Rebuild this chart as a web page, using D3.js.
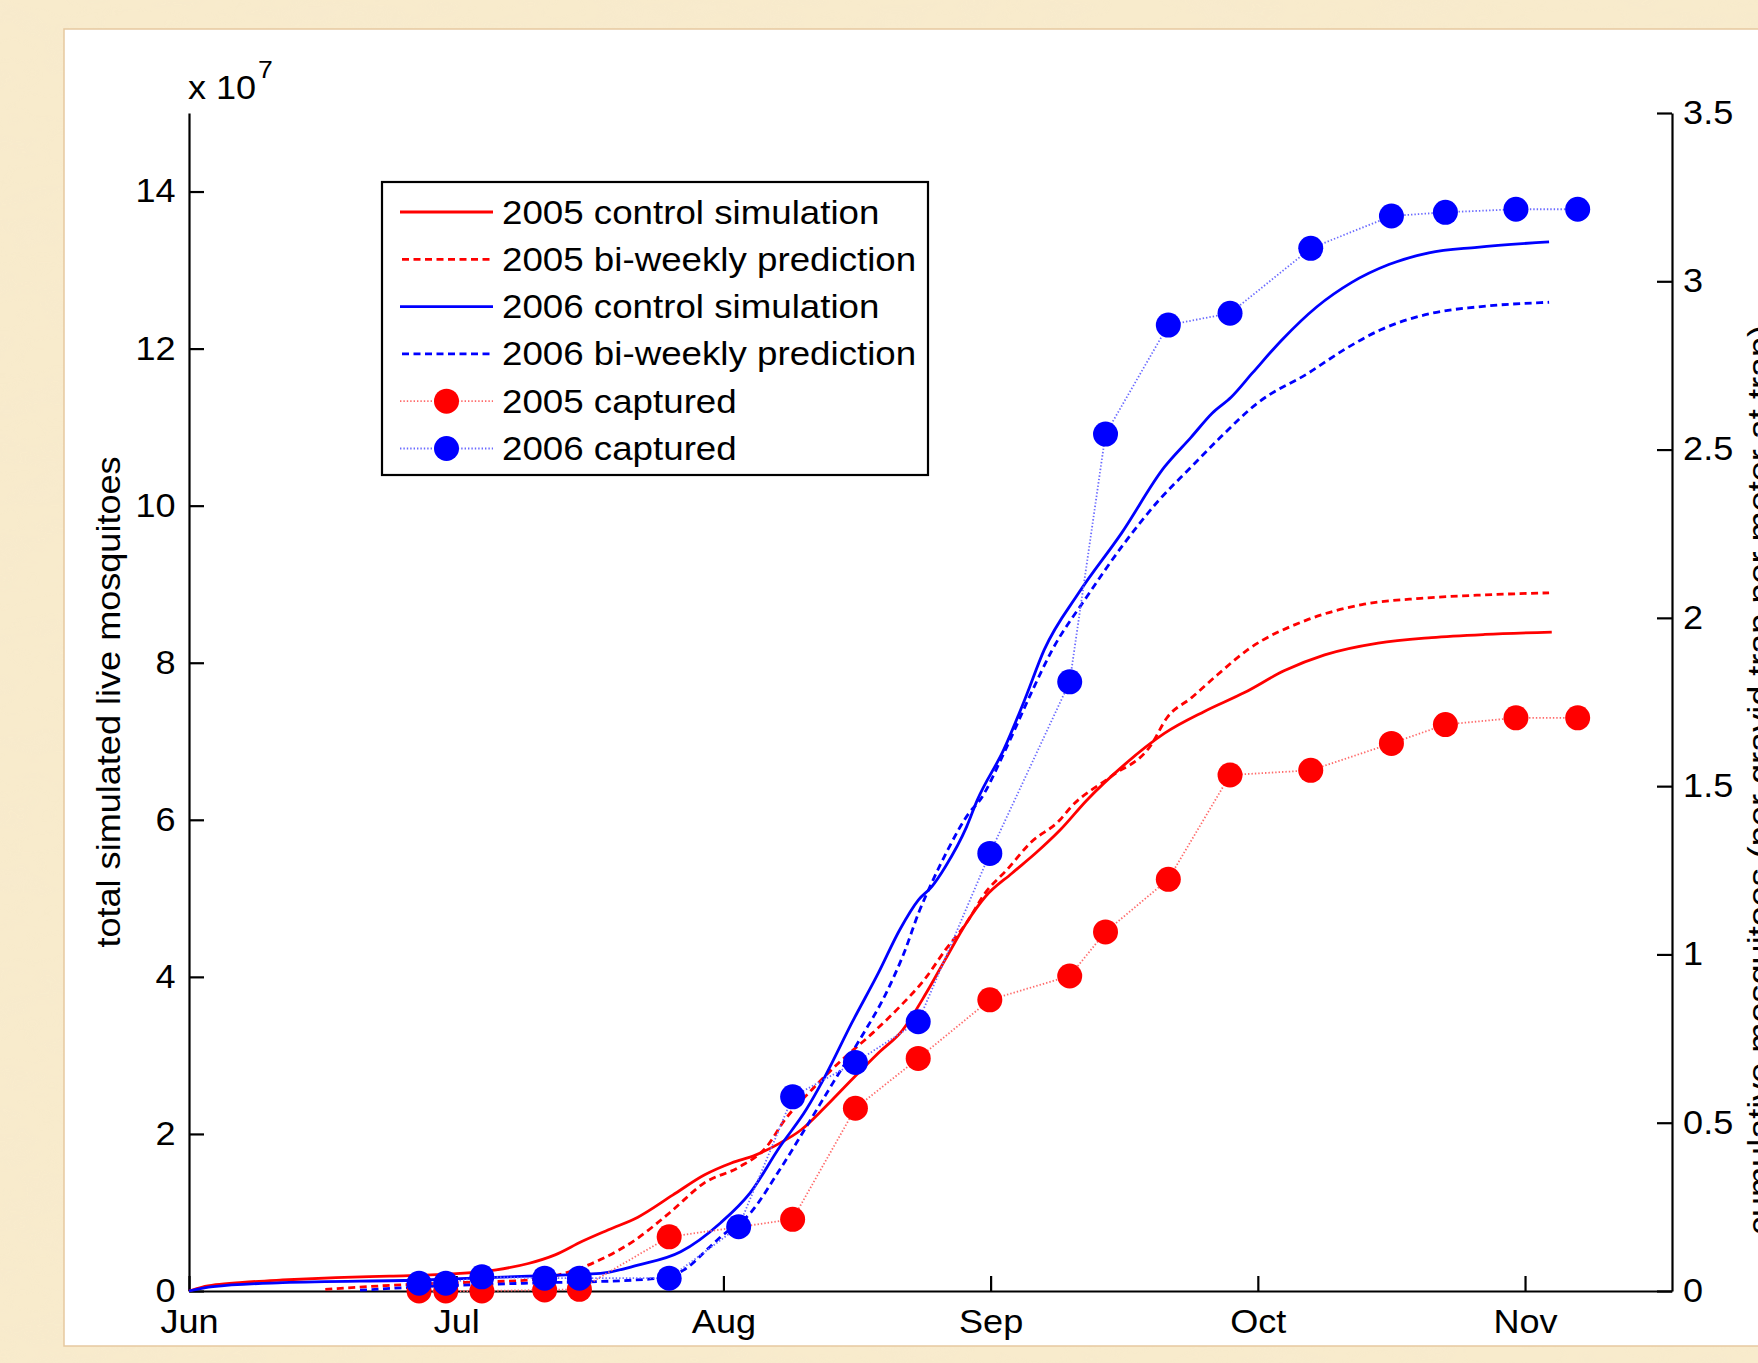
<!DOCTYPE html>
<html>
<head>
<meta charset="utf-8">
<script src="https://cdn.jsdelivr.net/npm/d3@7"></script>
<style>
  body { margin: 0; background: #f6e7c5; }
  svg { display: block; }
  text { font-family: "Liberation Sans", Arial, Helvetica, sans-serif; fill: #000; }
</style>
</head>
<body>
<svg id="chart" width="1758" height="1363"></svg>
<script>
// x values are in months (6 = 1 Jun, 7 = 1 Jul, ...), sim values in 1e7 mosquitoes
var monthTicks = [6, 7, 8, 9, 10, 11];
var monthNames = ["Jun", "Jul", "Aug", "Sep", "Oct", "Nov"];
var leftTicks = [0, 2, 4, 6, 8, 10, 12, 14];
var rightTicks = [0, 0.5, 1, 1.5, 2, 2.5, 3, 3.5];

var ctl2005 = [[6.00,0],[6.05,0.05],[6.10,0.08],[6.20,0.11],[6.35,0.14],[6.55,0.17],[6.75,0.19],[7.00,0.22],
  [7.15,0.27],[7.27,0.35],[7.37,0.46],[7.47,0.63],[7.57,0.78],[7.68,0.94],[7.81,1.22],[7.93,1.48],[8.03,1.63],
  [8.12,1.73],[8.21,1.88],[8.29,2.05],[8.38,2.34],[8.48,2.69],[8.58,3.03],[8.67,3.32],[8.76,3.80],[8.83,4.22],
  [8.91,4.69],[8.98,5.02],[9.08,5.32],[9.17,5.58],[9.26,5.87],[9.36,6.25],[9.50,6.70],[9.65,7.10],[9.80,7.38],
  [9.95,7.62],[10.10,7.90],[10.25,8.10],[10.45,8.25],[10.65,8.32],[10.85,8.36],[11.10,8.39]];
var pred2005 = [[6.51,0.02],[6.80,0.08],[7.04,0.11],[7.27,0.14],[7.40,0.22],[7.54,0.40],[7.67,0.65],[7.80,1.00],
  [7.93,1.38],[8.06,1.58],[8.16,1.83],[8.23,2.18],[8.33,2.56],[8.43,2.90],[8.56,3.29],[8.66,3.62],[8.76,4.00],
  [8.83,4.34],[8.91,4.69],[8.98,5.07],[9.06,5.36],[9.15,5.71],[9.26,6.00],[9.30,6.16],[9.45,6.55],[9.60,6.95],
  [9.66,7.30],[9.75,7.55],[9.85,7.85],[9.96,8.16],[10.18,8.54],[10.39,8.74],[10.61,8.82],[10.82,8.86],[11.09,8.89]];
var ctl2006 = [[6.00,0],[6.09,0.055],[6.35,0.106],[6.88,0.14],[7.27,0.19],[7.54,0.225],[7.68,0.33],[7.84,0.50],
  [7.99,0.87],[8.10,1.25],[8.21,1.83],[8.31,2.31],[8.38,2.73],[8.48,3.41],[8.58,4.05],[8.66,4.60],[8.73,4.98],
  [8.78,5.15],[8.83,5.40],[8.91,5.91],[8.95,6.25],[9.05,6.90],[9.13,7.55],[9.20,8.16],[9.33,8.89],[9.49,9.65],
  [9.65,10.49],[9.75,10.87],[9.83,11.18],[9.90,11.38],[9.98,11.69],[10.09,12.11],[10.22,12.53],[10.35,12.84],
  [10.49,13.07],[10.64,13.22],[10.82,13.29],[11.09,13.36]];
var pred2006 = [[6.64,0.01],[6.88,0.055],[7.27,0.10],[7.67,0.14],[7.80,0.19],[7.87,0.31],[7.93,0.50],[7.99,0.69],
  [8.10,0.99],[8.21,1.54],[8.31,2.09],[8.41,2.65],[8.51,3.20],[8.61,3.80],[8.68,4.34],[8.73,4.81],[8.78,5.20],
  [8.84,5.62],[8.92,6.09],[8.96,6.25],[9.05,6.85],[9.15,7.60],[9.23,8.16],[9.36,8.84],[9.50,9.52],[9.63,10.07],
  [9.75,10.49],[9.86,10.87],[10.00,11.31],[10.19,11.69],[10.32,11.98],[10.46,12.24],[10.65,12.45],[10.82,12.53],
  [11.09,12.59]];

// captured (right axis)
var capX2005 = [6.861,6.961,7.096,7.331,7.461,7.797,8.259,8.494,8.729,8.997,9.296,9.430,9.665,9.896,10.198,10.500,10.702,10.966,11.197];
var cap2005  = [0,0,0,0.003,0.005,0.161,0.213,0.543,0.691,0.865,0.936,1.067,1.223,1.533,1.547,1.627,1.683,1.703,1.703];
var capX2006 = [6.861,6.961,7.096,7.331,7.461,7.797,8.057,8.259,8.494,8.729,8.997,9.296,9.430,9.665,9.896,10.198,10.500,10.702,10.966,11.197];
var cap2006  = [0.023,0.023,0.042,0.038,0.038,0.038,0.191,0.577,0.679,0.800,1.300,1.810,2.546,2.870,2.905,3.098,3.194,3.205,3.214,3.214];

var svg = d3.select("#chart"),
    W = 1758, H = 1363,
    plotL = 189, plotR = 1672, plotT = 113, plotB = 1291,
    fs = 32.5, sx = 1.11;

// parchment background
var defs = svg.append("defs");
var f = defs.append("filter").attr("id", "paper").attr("x", 0).attr("y", 0).attr("width", 1).attr("height", 1);
f.append("feTurbulence").attr("type", "fractalNoise").attr("baseFrequency", "0.012 0.03").attr("numOctaves", 3).attr("seed", 7);
f.append("feColorMatrix").attr("type", "matrix")
  .attr("values", "0 0 0 0 0.93  0 0 0 0 0.82  0 0 0 0 0.62  0 0 0 -1.4 0.9");
svg.append("rect").attr("width", W).attr("height", H).attr("fill", "#f8ebcc");
svg.append("rect").attr("width", W).attr("height", H).attr("filter", "url(#paper)").attr("opacity", 0.7);

// white panel
svg.append("rect")
    .attr("x", 64).attr("y", 29).attr("width", W).attr("height", 1317)
    .attr("fill", "#fff").attr("stroke", "#e6c9a0").attr("stroke-width", 1.5);

var x = d3.scaleLinear().domain([6, 11.55]).range([plotL, plotR]);
var yL = d3.scaleLinear().domain([0, 15]).range([plotB, plotT]);
var yR = d3.scaleLinear().domain([0, 3.5]).range([plotB, plotT]);

var line = d3.line()
    .x(function(d) { return x(d[0]); })
    .y(function(d) { return yL(d[1]); })
    .curve(d3.curveMonotoneX);
var capLine = d3.line()
    .x(function(d) { return x(d[0]); })
    .y(function(d) { return yR(d[1]); });

function stretch(sel) {
    sel.attr("transform", "scale(" + sx + ",1)");
}

// axes
var gx = svg.append("g").attr("transform", "translate(0," + plotB + ")")
    .call(d3.axisBottom(x).tickValues(monthTicks).tickFormat(function(d, i) { return monthNames[i]; })
        .tickSizeInner(-15).tickSizeOuter(0).tickPadding(19));
var gl = svg.append("g").attr("transform", "translate(" + plotL + ",0)")
    .call(d3.axisLeft(yL).tickValues(leftTicks).tickSizeInner(-15).tickSizeOuter(0).tickPadding(12));
var gr = svg.append("g").attr("transform", "translate(" + plotR + ",0)")
    .call(d3.axisRight(yR).tickValues(rightTicks).tickFormat(function(d) { return String(d); })
        .tickSizeInner(-15).tickSizeOuter(0).tickPadding(10));
[gx, gl, gr].forEach(function(g) {
    g.attr("font-size", null).attr("font-family", null);
    g.selectAll("path, line").attr("stroke", "#000").attr("stroke-width", 2.2);
    g.selectAll("text").style("font-size", fs + "px").call(stretch);
});

// x 10^7
svg.append("text").attr("transform", "translate(188,99) scale(" + sx + ",1)").style("font-size", fs + "px").text("x 10");
svg.append("text").attr("transform", "translate(258,78) scale(" + sx + ",1)").style("font-size", "24px").text("7");

// axis labels
svg.append("text")
    .attr("transform", "translate(120," + (plotT + plotB) / 2 + ") rotate(-90) scale(" + sx + ",1)")
    .attr("text-anchor", "middle").style("font-size", fs + "px")
    .text("total simulated live mosquitoes");
svg.append("text")
    .attr("transform", "translate(1771,780) rotate(-90) scale(" + sx + ",1)")
    .attr("text-anchor", "middle").style("font-size", fs + "px")
    .text("cumulative mosquitoes (per gravid trap per meter at trap)");

// simulation curves
var series = [
    { data: ctl2005, color: "#ff0000", dash: null },
    { data: pred2005, color: "#ff0000", dash: "7,4.5" },
    { data: ctl2006, color: "#0000ff", dash: null },
    { data: pred2006, color: "#0000ff", dash: "7,4.5" }
];
series.forEach(function(s) {
    svg.append("path")
        .attr("d", line(s.data))
        .attr("fill", "none")
        .attr("stroke", s.color)
        .attr("stroke-width", 2.8)
        .attr("stroke-dasharray", s.dash);
});

// captured
var caps = [
    { xs: capX2005, vs: cap2005, color: "#ff0000", dot: "#ff6a6a" },
    { xs: capX2006, vs: cap2006, color: "#0000ff", dot: "#6a6aff" }
];
caps.forEach(function(c) {
    var pts = c.xs.map(function(v, i) { return [v, c.vs[i]]; });
    svg.append("path")
        .attr("d", capLine(pts))
        .attr("fill", "none")
        .attr("stroke", c.dot)
        .attr("stroke-width", 1.8)
        .attr("stroke-dasharray", "1.4,2");
    svg.append("g").selectAll("circle").data(pts).enter().append("circle")
        .attr("cx", function(d) { return x(d[0]); })
        .attr("cy", function(d) { return yR(d[1]); })
        .attr("r", 12.5)
        .attr("fill", c.color);
});

// legend
var lg = svg.append("g");
lg.append("rect").attr("x", 382).attr("y", 182).attr("width", 546).attr("height", 293)
    .attr("fill", "#fff").attr("stroke", "#000").attr("stroke-width", 2.2);
var legendItems = [
    { label: "2005 control simulation", color: "#ff0000", dash: null, marker: false },
    { label: "2005 bi-weekly prediction", color: "#ff0000", dash: "7,4.5", marker: false },
    { label: "2006 control simulation", color: "#0000ff", dash: null, marker: false },
    { label: "2006 bi-weekly prediction", color: "#0000ff", dash: "7,4.5", marker: false },
    { label: "2005 captured", color: "#ff0000", dash: "1.4,2", marker: true, dot: "#ff6a6a" },
    { label: "2006 captured", color: "#0000ff", dash: "1.4,2", marker: true, dot: "#6a6aff" }
];
legendItems.forEach(function(it, i) {
    var cy = 212 + i * 47.3;
    lg.append("line").attr("x1", it.dash && !it.marker ? 402 : 400).attr("x2", 493)
        .attr("y1", cy).attr("y2", cy)
        .attr("stroke", it.marker ? it.dot : it.color)
        .attr("stroke-width", it.marker ? 1.8 : 2.8)
        .attr("stroke-dasharray", it.dash);
    if (it.marker) {
        lg.append("circle").attr("cx", 446.5).attr("cy", cy).attr("r", 12.5).attr("fill", it.color);
    }
    lg.append("text")
        .attr("transform", "translate(502," + (cy + 11.5) + ") scale(" + (sx + 0.02) + ",1)")
        .style("font-size", fs + "px")
        .text(it.label);
});
</script>
</body>
</html>
